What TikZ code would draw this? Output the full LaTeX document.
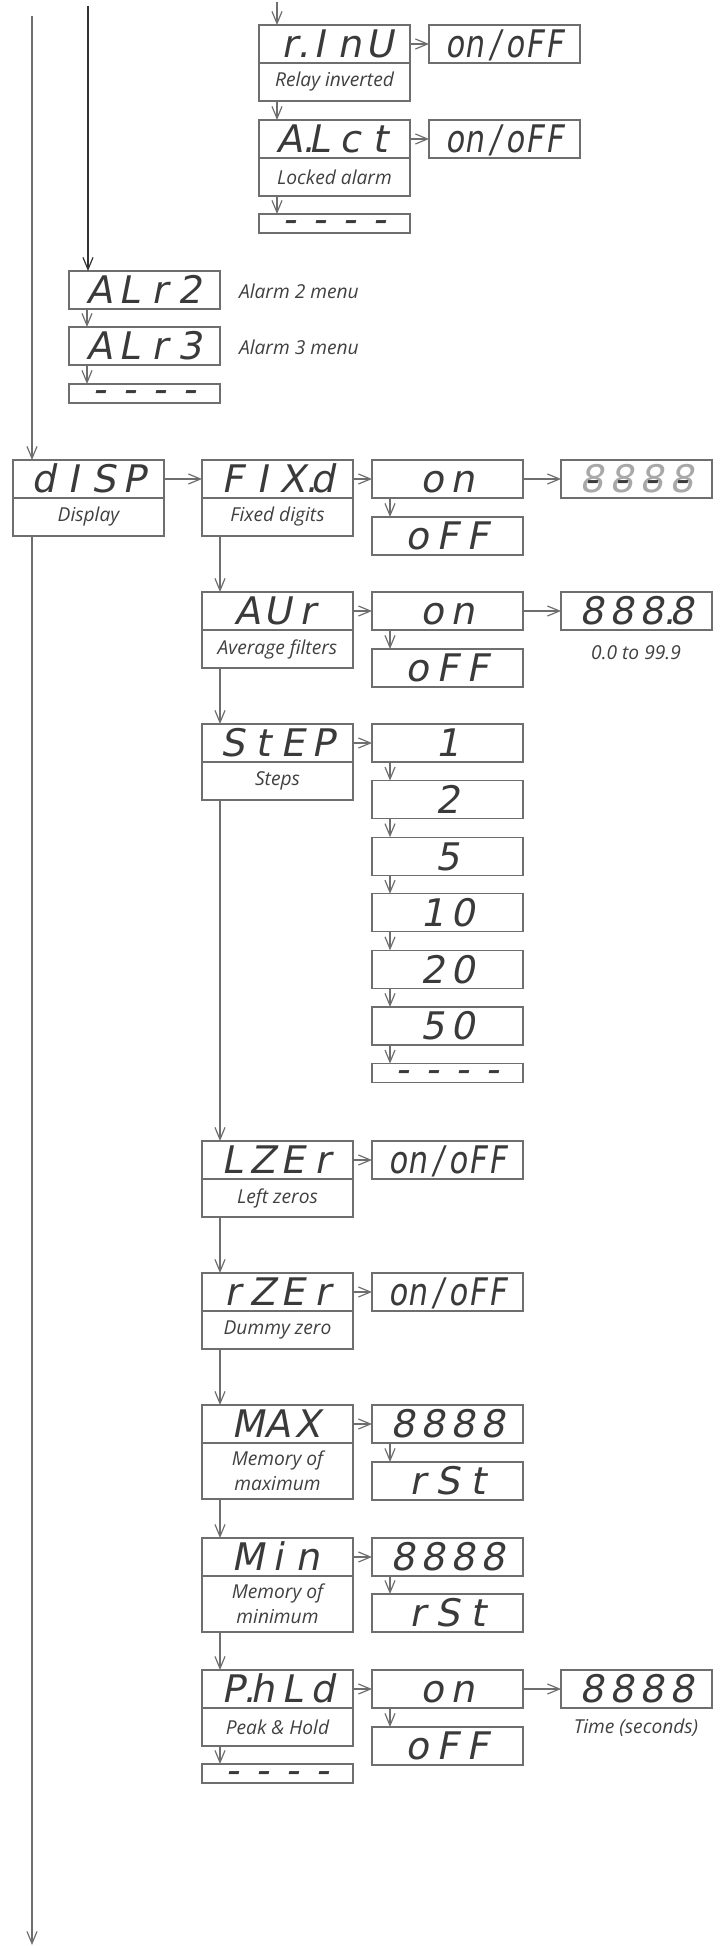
\documentclass[tikz,border=0pt]{standalone}
\usepackage{fontspec}
\setmainfont{Open Sans}
\newfontfamily\segfont{DejaVu Sans}[FakeSlant=0.2]
\usetikzlibrary{positioning,arrows.meta}

\definecolor{boxgray}{HTML}{6E6E6E}
\definecolor{seggray}{HTML}{3A3A3A}
\definecolor{offgray}{HTML}{A8A8A8}
\definecolor{txtgray}{HTML}{404040}

\newlength\segw
\def\segend{\segend}
\def\segrun#1{\ifx\segend#1\else\makebox[\segw]{#1}\expandafter\segrun\fi}
\newcommand\seg[2][15pt]{{\segfont\fontsize{19pt}{19pt}\selectfont\setlength\segw{#1}\segrun#2\segend}}
\newcommand\onoff{\scalebox{0.8}[1]{\seg[12.5pt]{on/oFF}}}

\begin{document}
\begin{tikzpicture}[x=0.5pt,y=-0.5pt,
    >={Straight Barb[length=6pt,width=5pt]},
    every node/.style={outer sep=0pt,inner sep=0pt},
    disp/.style={draw=boxgray,line width=0.6pt,minimum width=75.5pt,minimum height=19pt,
        anchor=north west,text=seggray,text height=13.9pt,text depth=0pt},
    endbox/.style={disp,minimum height=9.5pt,text height=9.5pt,text depth=-0.8pt},
    lbl/.style={draw=boxgray,line width=0.6pt,minimum width=75.5pt,minimum height=19pt,
        below=0pt of #1,text=txtgray,align=center,
        font=\itshape\fontsize{9.6pt}{12.5pt}\selectfont},
    note/.style={text=txtgray,font=\itshape\fontsize{9.6pt}{12pt}\selectfont},
    link/.style={draw=boxgray,line width=0.6pt,->}]
    \useasboundingbox (0,0) rectangle (725,1946);

    % relay / alarm lock
    \coordinate (topA) at (277,2);
    \node[disp] (rinv) at (259,25) {\seg{{r\rlap{.}}InU}};
    \node[lbl=rinv] (rinvL) {Relay inverted};
    \node[disp] (rinvV) at (429,25) {\onoff};
    \node[disp] (alck) at (259,120) {\seg{{A\rlap{.}}Lct}};
    \node[lbl=alck] (alckL) {Locked alarm};
    \node[disp] (alckV) at (429,120) {\onoff};
    \node[endbox] (endA) at (259,214) {\seg{----}};

    % alarm 2 / 3
    \coordinate (topB) at (88,6);
    \node[disp] (alr2) at (69,271) {\seg{ALr2}};
    \node[disp] (alr3) at (69,327) {\seg{ALr3}};
    \node[endbox] (endB) at (69,384) {\seg{----}};
    \node[note,anchor=west] (alr2N) at (239,291) {Alarm 2 menu};
    \node[note,anchor=west] (alr3N) at (239,347) {Alarm 3 menu};

    % display menu
    \coordinate (topM) at (32,16);
    \coordinate (botM) at (32,1945);
    \node[disp] (dsp) at (13,460) {\seg{dISP}};
    \node[lbl=dsp] (dspL) {Display};

    \node[disp] (fix) at (202,460) {\seg{FI{X\rlap{.}}d}};
    \node[lbl=fix] (fixL) {Fixed digits};
    \node[disp] (fixOn) at (372,460) {\seg{on}};
    \node[disp] (fixOff) at (372,517) {\seg{oFF}};
    \node[disp] (fixVal) at (561,460) {\textcolor{offgray}{\seg{8888}}\llap{\seg{----}}};

    \node[disp] (avr) at (202,592) {\seg{AUr}};
    \node[lbl=avr] (avrL) {Average filters};
    \node[disp] (avrOn) at (372,592) {\seg{on}};
    \node[disp] (avrOff) at (372,649) {\seg{oFF}};
    \node[disp] (avrVal) at (561,592) {\seg{88{8\rlap{.}}8}};
    \node[note] (avrN) at (636,653) {0.0 to 99.9};

    \node[disp] (stp) at (202,724) {\seg{StEP}};
    \node[lbl=stp] (stpL) {Steps};
    \foreach \v/\n [count=\k from 0] in {1/s1,2/s2,5/s5,10/s10,20/s20,50/s50}{
        \node[disp] (\n) at (372,{724+56.6*\k}) {\expandafter\seg\expandafter{\v}};
    }
    \node[endbox] (sEnd) at (372,1063.6) {\seg{----}};

    \node[disp] (lz) at (202,1141) {\seg{LZEr}};
    \node[lbl=lz] (lzL) {Left zeros};
    \node[disp] (lzV) at (372,1141) {\onoff};

    \node[disp] (rz) at (202,1273) {\seg{rZEr}};
    \node[lbl=rz] (rzL) {Dummy zero};
    \node[disp] (rzV) at (372,1273) {\onoff};

    \node[disp] (max) at (202,1405) {\seg{MAX}};
    \node[lbl=max,minimum height=28pt] (maxL) {Memory of\\maximum};
    \node[disp] (maxV) at (372,1405) {\seg{8888}};
    \node[disp] (maxR) at (372,1462) {\seg{rSt}};

    \node[disp] (min) at (202,1538) {\seg{Min}};
    \node[lbl=min,minimum height=28pt] (minL) {Memory of\\minimum};
    \node[disp] (minV) at (372,1538) {\seg{8888}};
    \node[disp] (minR) at (372,1594) {\seg{rSt}};

    \node[disp] (phd) at (202,1670) {\seg{{P\rlap{.}}hLd}};
    \node[lbl=phd] (phdL) {Peak \& Hold};
    \node[disp] (phdOn) at (372,1670) {\seg{on}};
    \node[disp] (phdOff) at (372,1727) {\seg{oFF}};
    \node[disp] (phdVal) at (561,1670) {\seg{8888}};
    \node[note] (phdN) at (636,1728) {Time (seconds)};
    \node[endbox] (phdEnd) at (202,1764) {\seg{----}};

    % connectors
    \draw[link] (topA) -- (rinv.north -| topA);
    \draw[link,draw=black!80] (topB) -- (alr2.north -| topB);
    \draw[link] (topM) -- (dsp.north -| topM);
    \draw[link] (dspL.south -| botM) -- (botM);
    \foreach \a/\b in {rinv/rinvV,alck/alckV,dsp/fix,fix/fixOn,fixOn/fixVal,avr/avrOn,avrOn/avrVal,
        stp/s1,lz/lzV,rz/rzV,max/maxV,min/minV,phd/phdOn,phdOn/phdVal}{
        \draw[link] (\a) -- (\b);
    }
    \foreach \a/\b in {rinvL/alck,alckL/endA,alr2/alr3,alr3/endB,fixL/avr,avrL/stp,stpL/lz,lzL/rz,
        rzL/max,maxL/min,minL/phd,phdL/phdEnd,fixOn/fixOff,avrOn/avrOff,s1/s2,s2/s5,s5/s10,
        s10/s20,s20/s50,s50/sEnd,maxV/maxR,minV/minR,phdOn/phdOff}{
        \draw[link] ([xshift=9pt]\a.south west) -- ([xshift=9pt]\b.north west);
    }
\end{tikzpicture}
\end{document}
